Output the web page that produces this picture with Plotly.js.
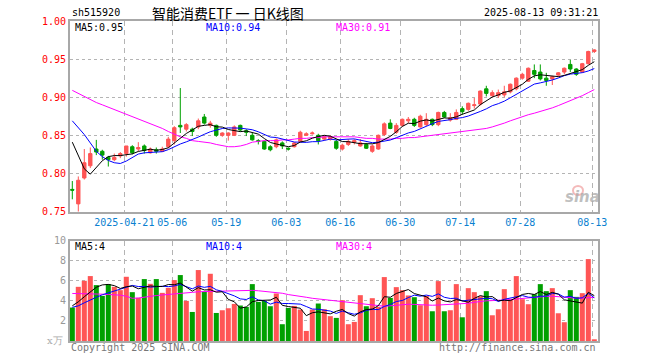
<!DOCTYPE html>
<html>
<head>
<meta charset="utf-8">
<script src="https://cdn.plot.ly/plotly-3.0.1.min.js"></script>
<style>html,body{margin:0;padding:0;background:#fff;}#chart{width:660px;height:360px;}</style>
</head>
<body>
<div id="chart"></div>
<script>
// ---------- data ----------
const dates = [
"2025-04-08","2025-04-09","2025-04-10","2025-04-11","2025-04-14","2025-04-15","2025-04-16","2025-04-17","2025-04-18","2025-04-21",
"2025-04-22","2025-04-23","2025-04-24","2025-04-25","2025-04-28","2025-04-29","2025-04-30","2025-05-06","2025-05-07","2025-05-08",
"2025-05-09","2025-05-12","2025-05-13","2025-05-14","2025-05-15","2025-05-16","2025-05-19","2025-05-20","2025-05-21","2025-05-22",
"2025-05-23","2025-05-26","2025-05-27","2025-05-28","2025-05-29","2025-05-30","2025-06-03","2025-06-04","2025-06-05","2025-06-06",
"2025-06-09","2025-06-10","2025-06-11","2025-06-12","2025-06-13","2025-06-16","2025-06-17","2025-06-18","2025-06-19","2025-06-20",
"2025-06-23","2025-06-24","2025-06-25","2025-06-26","2025-06-27","2025-06-30","2025-07-01","2025-07-02","2025-07-03","2025-07-04",
"2025-07-07","2025-07-08","2025-07-09","2025-07-10","2025-07-11","2025-07-14","2025-07-15","2025-07-16","2025-07-17","2025-07-18",
"2025-07-21","2025-07-22","2025-07-23","2025-07-24","2025-07-25","2025-07-28","2025-07-29","2025-07-30","2025-07-31","2025-08-01",
"2025-08-04","2025-08-05","2025-08-06","2025-08-07","2025-08-08","2025-08-11","2025-08-12","2025-08-13"];

const openP = [
0.779,0.760,0.794,0.810,0.832,0.829,0.821,0.818,0.823,0.826,
0.835,0.832,0.836,0.827,0.831,0.829,0.835,0.843,0.863,0.858,
0.858,0.861,0.874,0.863,0.863,0.850,0.850,0.850,0.863,0.856,
0.850,0.843,0.842,0.835,0.835,0.840,0.833,0.835,0.842,0.850,
0.852,0.850,0.845,0.845,0.842,0.832,0.838,0.841,0.836,0.838,
0.829,0.832,0.851,0.866,0.854,0.863,0.869,0.871,0.861,0.864,
0.871,0.864,0.880,0.870,0.871,0.885,0.884,0.889,0.891,0.911,
0.902,0.902,0.903,0.907,0.911,0.925,0.921,0.935,0.933,0.925,
0.924,0.929,0.933,0.943,0.937,0.933,0.944,0.960];

const highP = [
0.790,0.796,0.832,0.834,0.844,0.831,0.823,0.826,0.828,0.836,
0.837,0.841,0.838,0.834,0.834,0.835,0.848,0.862,0.912,0.866,
0.860,0.872,0.878,0.869,0.864,0.854,0.854,0.863,0.864,0.858,
0.853,0.845,0.843,0.837,0.846,0.842,0.834,0.841,0.856,0.854,
0.855,0.852,0.850,0.850,0.844,0.839,0.845,0.845,0.845,0.840,
0.838,0.851,0.867,0.871,0.866,0.872,0.874,0.873,0.877,0.879,
0.872,0.881,0.882,0.879,0.884,0.888,0.893,0.899,0.909,0.915,
0.909,0.910,0.915,0.918,0.926,0.932,0.939,0.943,0.943,0.932,
0.928,0.933,0.939,0.949,0.938,0.945,0.961,0.963];

const lowP = [
0.766,0.749,0.792,0.807,0.824,0.818,0.809,0.816,0.820,0.822,
0.825,0.829,0.826,0.826,0.826,0.828,0.833,0.838,0.853,0.855,
0.849,0.858,0.864,0.860,0.848,0.848,0.843,0.849,0.855,0.849,
0.843,0.838,0.831,0.829,0.833,0.832,0.830,0.834,0.841,0.849,
0.851,0.838,0.843,0.843,0.831,0.830,0.836,0.838,0.835,0.832,
0.827,0.831,0.849,0.858,0.852,0.861,0.866,0.861,0.860,0.862,
0.862,0.862,0.873,0.868,0.870,0.877,0.882,0.885,0.889,0.901,
0.900,0.899,0.900,0.905,0.909,0.923,0.920,0.925,0.922,0.915,
0.916,0.927,0.930,0.933,0.928,0.932,0.943,0.958];

const closeP = [
0.778,0.791,0.814,0.826,0.828,0.824,0.818,0.821,0.826,0.836,
0.827,0.834,0.830,0.832,0.829,0.832,0.845,0.860,0.861,0.864,
0.855,0.869,0.866,0.866,0.850,0.853,0.853,0.861,0.857,0.854,
0.844,0.842,0.832,0.831,0.844,0.836,0.832,0.840,0.854,0.852,
0.853,0.843,0.848,0.848,0.833,0.837,0.842,0.843,0.840,0.833,
0.836,0.850,0.865,0.859,0.863,0.871,0.871,0.863,0.875,0.871,
0.864,0.880,0.874,0.873,0.880,0.881,0.892,0.890,0.908,0.905,
0.906,0.906,0.907,0.917,0.925,0.930,0.938,0.930,0.924,0.922,
0.927,0.932,0.938,0.937,0.930,0.944,0.960,0.962];

const ma5 = [
0.841,0.824,0.806,0.799,0.8074,0.8166,0.8220,0.8234,0.8234,0.8250,
0.8256,0.8288,0.8306,0.8318,0.8304,0.8314,0.8336,0.8396,0.8454,0.8524,
0.8570,0.8618,0.8630,0.8640,0.8612,0.8608,0.8576,0.8566,0.8548,0.8556,
0.8538,0.8516,0.8458,0.8406,0.8386,0.8370,0.8350,0.8366,0.8412,0.8428,
0.8462,0.8484,0.8500,0.8488,0.8450,0.8418,0.8416,0.8406,0.8390,0.8390,
0.8388,0.8404,0.8448,0.8486,0.8546,0.8616,0.8658,0.8654,0.8686,0.8702,
0.8688,0.8706,0.8728,0.8724,0.8742,0.8776,0.8800,0.8832,0.8902,0.8952,
0.9002,0.9030,0.9064,0.9082,0.9122,0.9170,0.9234,0.9280,0.9294,0.9288,
0.9282,0.9270,0.9286,0.9312,0.9328,0.9362,0.9418,0.9466];

const ma10 = [
0.869,0.860,0.851,0.840,0.829,0.822,0.817,0.814,0.813,0.8162,
0.8211,0.8254,0.8270,0.8276,0.8277,0.8285,0.8312,0.8351,0.8386,0.8414,
0.8442,0.8477,0.8513,0.8547,0.8568,0.8589,0.8597,0.8598,0.8594,0.8584,
0.8573,0.8546,0.8512,0.8477,0.8471,0.8454,0.8433,0.8412,0.8409,0.8407,
0.8416,0.8417,0.8433,0.8450,0.8439,0.8440,0.8450,0.8453,0.8439,0.8420,
0.8403,0.8410,0.8427,0.8438,0.8468,0.8502,0.8531,0.8551,0.8586,0.8624,
0.8652,0.8682,0.8691,0.8705,0.8722,0.8732,0.8753,0.8780,0.8813,0.8847,
0.8889,0.8915,0.8948,0.8992,0.9037,0.9086,0.9132,0.9172,0.9188,0.9205,
0.9226,0.9252,0.9283,0.9303,0.9308,0.9322,0.9344,0.9376];

const ma30 = [
0.909,0.905,0.900,0.896,0.893,0.890,0.887,0.884,0.880,0.877,
0.875,0.872,0.868,0.865,0.862,0.859,0.855,0.851,0.848,0.846,
0.843,0.842,0.841,0.840,0.838,0.836,0.835,0.835,0.836,0.838,
0.841,0.842,0.843,0.843,0.843,0.844,0.844,0.845,0.846,0.846,
0.847,0.847,0.848,0.848,0.848,0.848,0.848,0.848,0.847,0.846,
0.846,0.845,0.845,0.845,0.846,0.846,0.847,0.847,0.848,0.849,
0.850,0.851,0.852,0.853,0.854,0.855,0.856,0.857,0.858,0.859,
0.861,0.863,0.866,0.869,0.872,0.874,0.877,0.879,0.881,0.884,
0.886,0.889,0.892,0.895,0.898,0.902,0.906,0.910];

const volume = [
3.33,5.39,5.99,6.46,5.56,4.49,5.66,5.39,5.06,6.39,
4.86,4.29,6.16,5.69,6.16,4.79,5.29,6.06,6.56,3.99,
2.89,7.06,4.89,6.69,2.79,3.06,3.26,3.69,3.53,3.39,
5.66,3.89,3.99,3.46,4.73,1.67,3.29,3.49,3.13,1.00,
3.13,3.73,3.16,2.47,2.30,4.06,1.67,1.90,4.56,3.46,
4.26,3.39,6.36,4.29,5.36,5.06,4.53,4.36,3.56,4.49,
2.96,5.96,2.96,3.06,5.66,2.36,5.26,4.86,4.46,4.96,
2.56,3.16,5.16,4.19,6.46,4.16,3.66,4.66,5.66,4.96,
5.26,2.76,1.87,5.06,4.39,4.76,8.15,0.17];

const vma5 = [
3.50,3.90,4.40,4.90,5.35,5.58,5.63,5.51,5.23,5.40,
5.47,5.20,5.35,5.48,5.43,5.42,5.62,5.60,5.77,5.34,
4.96,5.31,5.08,5.10,4.86,4.90,4.14,3.90,3.27,3.39,
3.91,4.03,4.09,4.08,4.35,3.55,3.43,3.33,3.26,2.52,
2.81,2.90,2.83,2.70,2.96,3.14,2.73,2.48,2.90,3.13,
3.17,3.51,4.41,4.35,4.73,4.89,5.12,4.72,4.57,4.40,
3.98,4.27,3.99,3.89,4.12,4.00,3.86,4.24,4.52,4.38,
4.42,4.00,4.06,4.01,4.31,4.63,4.73,4.63,4.92,4.62,
4.84,4.66,4.10,3.98,3.87,3.77,4.85,4.51];

const vma10 = [
3.35,3.50,3.80,4.10,4.35,4.60,4.80,5.00,5.15,5.37,
5.53,5.42,5.43,5.36,5.42,5.45,5.41,5.48,5.63,5.39,
5.19,5.47,5.34,5.44,5.10,4.93,4.73,4.49,4.19,4.13,
4.40,4.09,4.00,3.67,3.87,3.73,3.73,3.71,3.67,3.43,
3.18,3.16,3.08,2.98,2.74,2.98,2.81,2.66,2.80,3.04,
3.16,3.12,3.44,3.63,3.93,4.03,4.32,4.56,4.46,4.57,
4.44,4.69,4.35,4.23,4.26,3.99,4.06,4.11,4.20,4.25,
4.21,3.93,4.15,4.26,4.34,4.52,4.36,4.34,4.46,4.46,
4.73,4.69,4.36,4.45,4.24,4.30,4.75,4.30];

const vma30 = [
4.73,4.73,4.72,4.70,4.68,4.66,4.63,4.60,4.56,4.45,
4.25,4.28,4.38,4.45,4.52,4.58,4.62,4.66,4.72,4.78,
4.84,4.90,4.92,4.94,4.95,4.97,5.00,5.02,5.04,5.06,
5.04,5.00,4.95,4.90,4.82,4.75,4.62,4.55,4.45,4.35,
4.25,4.18,4.12,4.06,4.00,3.92,3.84,3.76,3.70,3.66,
3.60,3.52,3.46,3.50,3.56,3.62,3.66,3.64,3.60,3.57,
3.56,3.58,3.60,3.63,3.65,3.66,3.75,3.85,3.95,4.00,
4.02,4.04,4.06,4.12,4.18,4.24,4.30,4.36,4.40,4.44,
4.46,4.40,4.34,4.30,4.26,4.28,4.30,4.33];

const tickDates = ["2025-04-21","2025-05-06","2025-05-19","2025-06-03","2025-06-16","2025-06-30","2025-07-14","2025-07-28","2025-08-13"];
const tickText  = ["2025-04-21","05-06","05-19","06-03","06-16","06-30","07-14","07-28","08-13"];
const priceTicks = [0.75,0.80,0.85,0.90,0.95,1.00];
const volTicks = [2,4,6,8,10];

// ---------- styling ----------
const RED = '#ff5555', GREEN = '#00a000';
const MONO = '"DejaVu Sans Mono", "Liberation Mono", monospace';
const GRID = '#b4b4b4', BOX = '#a8a8a8';

const xs = dates.map((d, i) => i);
const tickPos = tickDates.map(d => dates.indexOf(d) - 1/3);
const volColors = closeP.map((c, i) => c > openP[i] ? RED : GREEN);

const traces = [
  {type:'candlestick', x: xs, open: openP, high: highP, low: lowP, close: closeP,
   xaxis:'x', yaxis:'y', whiskerwidth:0,
   increasing:{line:{color:RED, width:1}, fillcolor:RED},
   decreasing:{line:{color:GREEN, width:1}, fillcolor:GREEN}, hoverinfo:'skip'},
  {type:'scatter', mode:'lines', x: xs, y: ma30, line:{color:'#ff00ff', width:1}, xaxis:'x', yaxis:'y', hoverinfo:'skip'},
  {type:'scatter', mode:'lines', x: xs, y: ma10, line:{color:'#0000ff', width:1}, xaxis:'x', yaxis:'y', hoverinfo:'skip'},
  {type:'scatter', mode:'lines', x: xs, y: ma5, line:{color:'#000000', width:1}, xaxis:'x', yaxis:'y', hoverinfo:'skip'},
  {type:'bar', x: xs, y: volume, marker:{color: volColors, line:{width:0}}, width:0.84, xaxis:'x2', yaxis:'y2', hoverinfo:'skip'},
  {type:'scatter', mode:'lines', x: xs, y: vma30, line:{color:'#ff00ff', width:1}, xaxis:'x2', yaxis:'y2', hoverinfo:'skip'},
  {type:'scatter', mode:'lines', x: xs, y: vma10, line:{color:'#0000ff', width:1}, xaxis:'x2', yaxis:'y2', hoverinfo:'skip'},
  {type:'scatter', mode:'lines', x: xs, y: vma5, line:{color:'#000000', width:1}, xaxis:'x2', yaxis:'y2', hoverinfo:'skip'}
];

const L = 70, T = 21, W = 528, H = 320;
const ax = x => (x - L) / W;
const ay = y => (T + H - y) / H;
function txt(text, x, y, color, opts) {
  opts = opts || {};
  return {text: text, x: ax(x), y: ay(y), xref:'paper', yref:'paper', showarrow:false,
    xanchor: opts.anchor || 'left', yanchor:'middle',
    font:{family: opts.family || MONO, size: opts.size || 10, color: color}};
}

const xRange = [-0.383, 87.617];
const xBase = {range: xRange, tickmode:'array', tickvals: tickPos, ticktext: tickText,
  showgrid:true, gridcolor: GRID, griddash:'5px,4px', gridwidth:1, zeroline:false,
  showline:true, mirror:true, linecolor: BOX, linewidth:2, ticks:'', fixedrange:true};

const layout = {
  width:660, height:360, paper_bgcolor:'#ffffff', plot_bgcolor:'#ffffff',
  margin:{l:L, r:660-L-W, t:T, b:360-T-H, pad:0},
  showlegend:false, boxgap:0.2,
  xaxis: Object.assign({}, xBase, {anchor:'y', rangeslider:{visible:false},
    tickfont:{family: MONO, size:10, color:'#0a7fd0'}}),
  xaxis2: Object.assign({}, xBase, {anchor:'y2', showticklabels:false}),
  yaxis: {domain:[(T+H-211.5)/H, 1], range:[0.75, 1.0], tickmode:'array', tickvals: priceTicks,
    tickformat:'.2f', tickfont:{family: MONO, size:10, color:'#ff0000'},
    showgrid:true, gridcolor: GRID, griddash:'dot', zeroline:false,
    showline:true, mirror:true, linecolor: BOX, linewidth:2, ticks:'', fixedrange:true},
  yaxis2: {domain:[0, (T+H-240.5)/H], range:[0, 10], tickmode:'array', tickvals: volTicks,
    tickfont:{family: MONO, size:10, color:'#999999'},
    showgrid:true, gridcolor: GRID, griddash:'dot', zeroline:false,
    showline:true, mirror:true, linecolor: BOX, linewidth:2, ticks:'', fixedrange:true},
  annotations: [
    txt('sh515920', 70, 12, '#000000'),
    txt('智能消费ETF 一 日K线图', 150, 13, '#000000', {family:'"Noto Sans CJK SC", sans-serif', size:14}),
    txt('2025-08-13 09:31:21', 600, 12, '#000000', {anchor:'right'}),
    txt('MA5:0.95', 73, 27, '#000000'),
    txt('MA10:0.94', 204, 27, '#0000ff'),
    txt('MA30:0.91', 334, 27, '#ff00ff'),
    txt('MA5:4', 73, 246, '#000000'),
    txt('MA10:4', 204, 246, '#0000ff'),
    txt('MA30:4', 334, 246, '#ff00ff'),
    txt('Copyright 2025 SINA.COM', 69, 347, '#777777'),
    txt('http://finance.sina.com.cn', 598, 347, '#777777', {anchor:'right'}),
    txt('x万', 65, 340, '#aaaaaa', {anchor:'right', family:'"DejaVu Serif", serif', size:10}),
    {text:'<b><i>sina</i></b>', x: ax(582), y: ay(197), xref:'paper', yref:'paper', showarrow:false,
     xanchor:'center', yanchor:'middle', font:{family:'"DejaVu Sans", sans-serif', size:15, color:'rgba(170,170,170,0.75)'}}
  ],
  shapes: [
    {type:'circle', xref:'paper', yref:'paper', x0: ax(573), x1: ax(583), y0: ay(195), y1: ay(186),
     line:{color:'rgba(235,130,130,0.55)', width:2}, fillcolor:'rgba(0,0,0,0)'}
  ]
};

Plotly.newPlot('chart', traces, layout, {staticPlot:true, displayModeBar:false});
</script>
</body>
</html>
